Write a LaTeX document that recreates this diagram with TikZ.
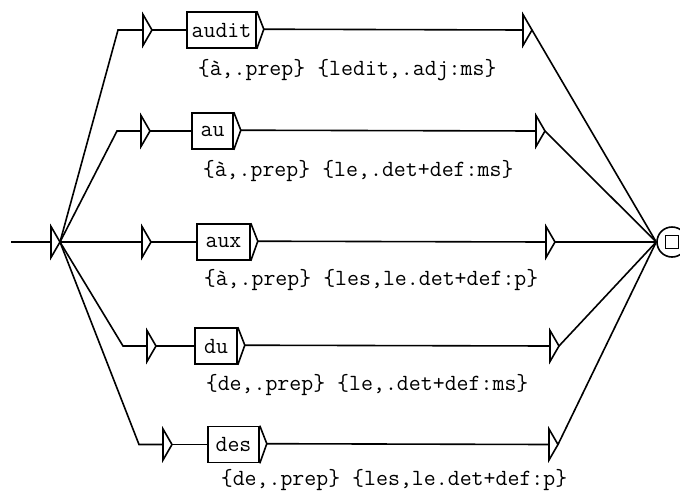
\documentclass[tikz,border=0pt]{standalone}
\usepackage{fontspec}
\begin{document}
\begin{tikzpicture}[x=1pt,y=-1pt,line width=1.6pt,
  txt/.style={font=\ttfamily\fontsize{23.2}{26}\selectfont},
  box/.style={draw,rectangle,inner sep=0,minimum height=36pt,txt},
  lbl/.style={anchor=west,inner sep=0,txt},
  utri/.pic={\draw (0,-15.5) -- (9,0) -- (0,15.5) -- cycle;
             \coordinate (-in) at (0,0); \coordinate (-out) at (9,0);}]
\useasboundingbox (0,0) rectangle (680,491);
% initial state
\coordinate (s) at (11,242);
\pic (i) at (51,242) {utri};
\draw (s) -- (i-in);
% final state
\node[draw,circle,minimum size=30pt,inner sep=0] (f) at (672,242) {};
\node[draw,rectangle,minimum size=13pt,inner sep=0] (fs) at (f.center) {};
% row 1 : audit
\coordinate (c1) at (118,30);
\pic (t1) at (143,30) {utri};
\node[box,minimum width=69pt] (b1) at (221.5,30) {audit};
\draw (b1.north east) -- ++(7,18) coordinate (b1t) -- (b1.south east);
\pic (o1) at (523,30) {utri};
\node[lbl] (l1) at (197,70) {\{à,.prep\} \{ledit,.adj:ms\}};
% row 2 : au
\coordinate (c2) at (117,131);
\pic (t2) at (141,131) {utri};
\node[box,minimum width=41pt] (b2) at (212.5,131) {au};
\draw (b2.north east) -- ++(7,18) coordinate (b2t) -- (b2.south east);
\pic (o2) at (536,131) {utri};
\node[lbl] (l2) at (202,171) {\{à,.prep\} \{le,.det+def:ms\}};
% row 3 : aux
\pic (t3) at (142,242) {utri};
\node[box,minimum width=53pt] (b3) at (223.5,242) {aux};
\draw (b3.north east) -- ++(7,18) coordinate (b3t) -- (b3.south east);
\pic (o3) at (546,242) {utri};
\node[lbl] (l3) at (203,280) {\{à,.prep\} \{les,le.det+def:p\}};
% row 4 : du
\coordinate (c4) at (123,346);
\pic (t4) at (147,346) {utri};
\node[box,minimum width=42pt] (b4) at (216,346) {du};
\draw (b4.north east) -- ++(7,18) coordinate (b4t) -- (b4.south east);
\pic (o4) at (550,346) {utri};
\node[lbl] (l4) at (205,385) {\{de,.prep\} \{le,.det+def:ms\}};
% row 5 : des
\coordinate (c5) at (139,444.5);
\pic (t5) at (163,444.5) {utri};
\node[box,minimum width=51pt] (b5) at (233.5,444.5) {des};
\draw (b5.north east) -- ++(7,18) coordinate (b5t) -- (b5.south east);
\pic (o5) at (549,444.5) {utri};
\node[lbl] (l5) at (220,480) {\{de,.prep\} \{les,le.det+def:p\}};
% connectors
\draw (i-out) -- (c1) -- (t1-in);
\draw (i-out) -- (c2) -- (t2-in);
\draw (i-out) -- (t3-in);
\draw (i-out) -- (c4) -- (t4-in);
\draw (i-out) -- (c5) -- (t5-in);
\foreach \k in {1,...,5}{
  \draw (t\k-out) -- (b\k.west);
  \draw (b\k t) -- (o\k-in);
  \draw (o\k-out) -- (f.west);
}
\end{tikzpicture}
\end{document}
